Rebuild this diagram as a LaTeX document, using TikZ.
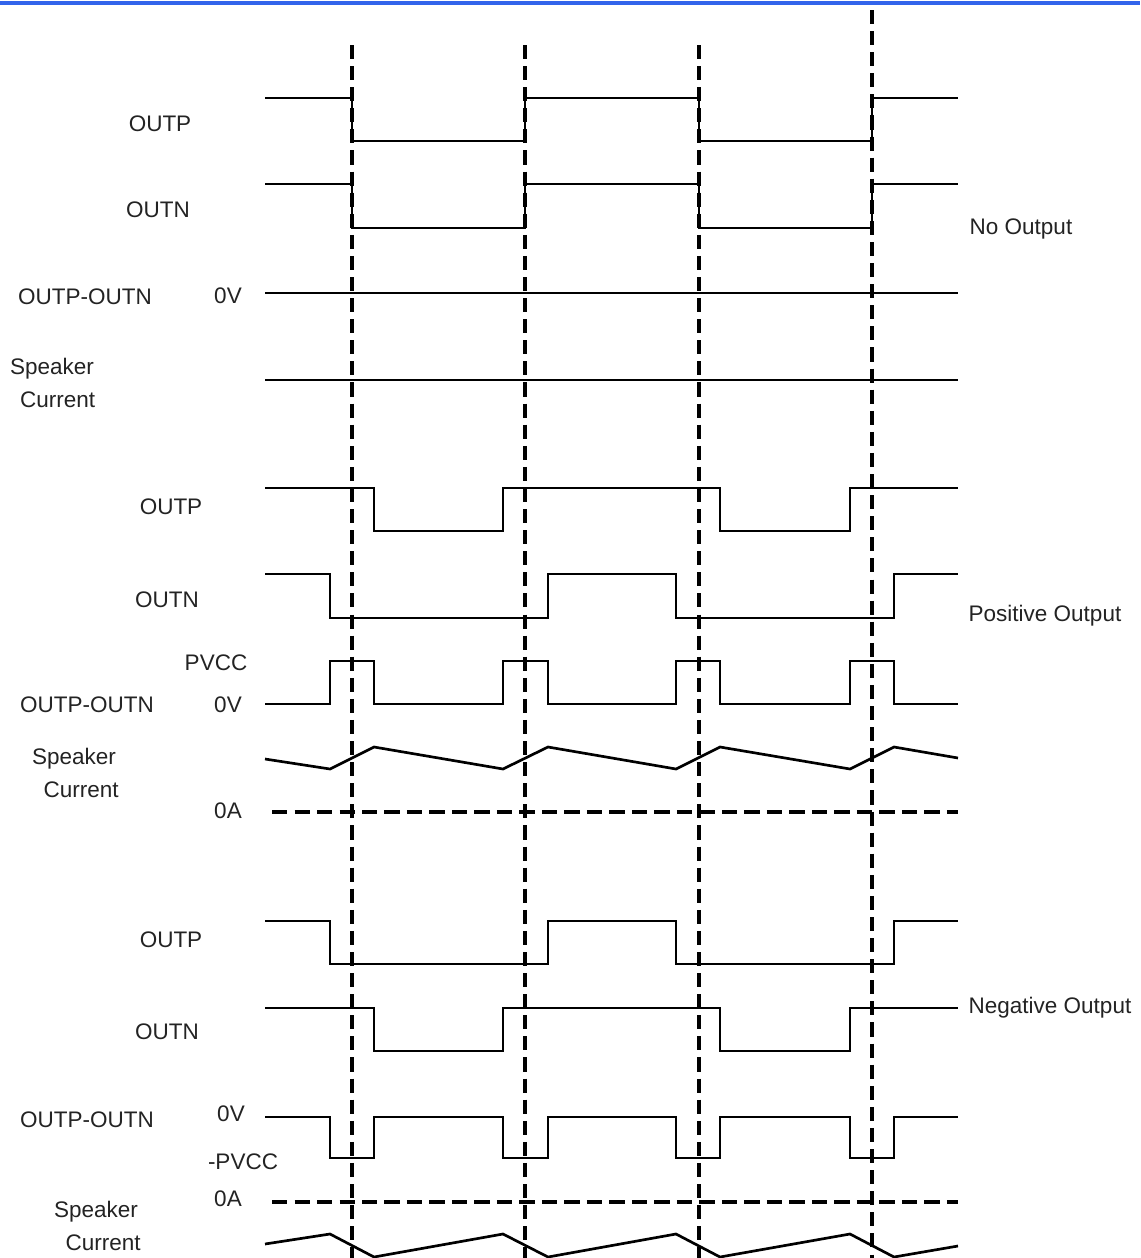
\documentclass[tikz,border=0pt]{standalone}
\usepackage{fontspec}
\setmainfont{Liberation Sans}
\definecolor{rulebl}{RGB}{50,100,235}
\definecolor{labgray}{RGB}{35,35,35}
\begin{document}
\begin{tikzpicture}[x=0.025cm,y=-0.025cm,line cap=butt,line join=miter,
  wave/.style={line width=1.9pt},
  guide/.style={line width=2.3pt,dash pattern=on 10pt off 5pt},
  zeroA/.style={line width=2.3pt,dash pattern=on 11pt off 5pt},
  lab/.style={text=labgray,font=\fontsize{16pt}{23.5pt}\selectfont,inner sep=0pt,align=center}]
  \useasboundingbox (0,0) rectangle (1140,1258);
  \draw[rulebl,line width=2.4pt] (0,3) -- (1140,3);
  % time marks
  \foreach \t in {352,525,699}
    \draw[guide] (\t,45) -- (\t,1258);
  \draw[guide] (872,10) -- (872,1258);
  % no output
  \draw[wave] (265,98) -- (352,98) -- (352,141) -- (525,141) -- (525,98) -- (699,98) -- (699,141) -- (872,141) -- (872,98) -- (958,98);
  \draw[wave] (265,184) -- (352,184) -- (352,228) -- (525,228) -- (525,184) -- (699,184) -- (699,228) -- (872,228) -- (872,184) -- (958,184);
  \draw[wave] (265,293) -- (958,293);
  \draw[wave] (265,380) -- (958,380);
  \node[lab] (outpA) at (160,124) {OUTP};
  \node[lab] (outnA) at (158,210) {OUTN};
  \node[lab] (diffA) at (85,297) {OUTP-OUTN};
  \node[lab] (zvA) at (228,296) {0V};
  \node[lab] (spkA) at (52,383) {Speaker\\\hspace*{8pt}Current};
  \node[lab] (modeA) at (1021,229) {No Output};
  % positive output
  \draw[wave] (265,488) -- (374,488) -- (374,531) -- (503,531) -- (503,488) -- (720,488) -- (720,531) -- (850,531) -- (850,488) -- (958,488);
  \draw[wave] (265,574) -- (330,574) -- (330,618) -- (548,618) -- (548,574) -- (676,574) -- (676,618) -- (894,618) -- (894,574) -- (958,574);
  \draw[wave] (265,704) -- (330,704) -- (330,661) -- (374,661) -- (374,704) -- (503,704) -- (503,661) -- (548,661) -- (548,704)
    -- (676,704) -- (676,661) -- (720,661) -- (720,704) -- (850,704) -- (850,661) -- (894,661) -- (894,704) -- (958,704);
  \draw[wave] (265,759) -- (330,769) -- (374,747) -- (503,769) -- (548,747) -- (676,769) -- (720,747) -- (850,769) -- (894,747) -- (958,758);
  \draw[zeroA] (272,812) -- (958,812);
  \node[lab] (outpB) at (171,507) {OUTP};
  \node[lab] (outnB) at (167,600) {OUTN};
  \node[lab] (pvccB) at (216,663) {PVCC};
  \node[lab] (diffB) at (87,705) {OUTP-OUTN};
  \node[lab] (zvB) at (228,705) {0V};
  \node[lab] (spkB) at (74,773) {Speaker\\\hspace*{10pt}Current};
  \node[lab] (zaB) at (228,811) {0A};
  \node[lab] (modeB) at (1045,616) {Positive Output};
  % negative output
  \draw[wave] (265,921) -- (330,921) -- (330,964) -- (548,964) -- (548,921) -- (676,921) -- (676,964) -- (894,964) -- (894,921) -- (958,921);
  \draw[wave] (265,1008) -- (374,1008) -- (374,1051) -- (503,1051) -- (503,1008) -- (720,1008) -- (720,1051) -- (850,1051) -- (850,1008) -- (958,1008);
  \draw[wave] (265,1117) -- (330,1117) -- (330,1158) -- (374,1158) -- (374,1117) -- (503,1117) -- (503,1158) -- (548,1158) -- (548,1117)
    -- (676,1117) -- (676,1158) -- (720,1158) -- (720,1117) -- (850,1117) -- (850,1158) -- (894,1158) -- (894,1117) -- (958,1117);
  \draw[zeroA] (272,1202) -- (958,1202);
  \draw[wave] (265,1244) -- (330,1234) -- (374,1257) -- (503,1234) -- (548,1257) -- (676,1234) -- (720,1257) -- (850,1234) -- (894,1257) -- (958,1246);
  \node[lab] (outpC) at (171,940) {OUTP};
  \node[lab] (outnC) at (167,1032) {OUTN};
  \node[lab] (diffC) at (87,1120) {OUTP-OUTN};
  \node[lab] (zvC) at (231,1114) {0V};
  \node[lab] (pvccC) at (243,1162) {-PVCC};
  \node[lab] (zaC) at (228,1199) {0A};
  \node[lab] (spkC) at (96,1226) {Speaker\\\hspace*{10pt}Current};
  \node[lab] (modeC) at (1050,1008) {Negative Output};
\end{tikzpicture}
\end{document}
